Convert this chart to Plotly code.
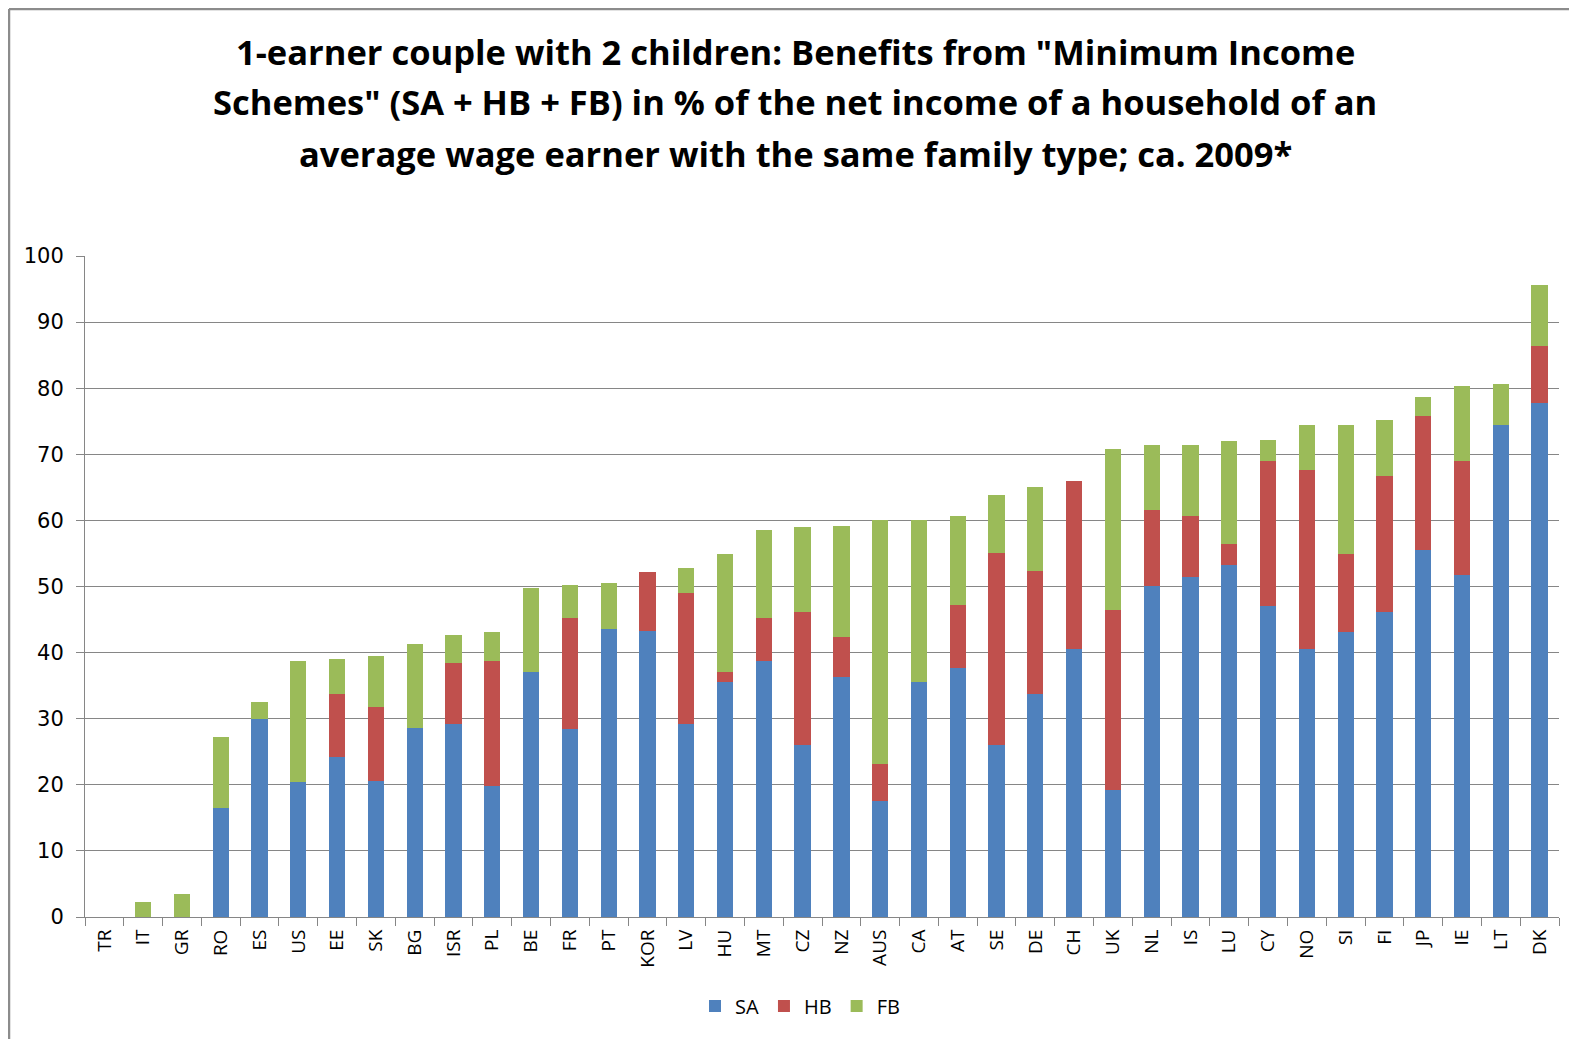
import plotly.graph_objects as go

countries = ["TR", "IT", "GR", "RO", "ES", "US", "EE", "SK", "BG", "ISR", "PL", "BE", "FR", "PT",
             "KOR", "LV", "HU", "MT", "CZ", "NZ", "AUS", "CA", "AT", "SE", "DE", "CH", "UK", "NL",
             "IS", "LU", "CY", "NO", "SI", "FI", "JP", "IE", "LT", "DK"]

# social assistance
sa = [0, 0, 0, 16.5, 29.9, 20.5, 24.2, 20.6, 28.6, 29.2, 19.8, 37.0, 28.4, 43.5,
      43.2, 29.2, 35.5, 38.8, 26.0, 36.3, 17.6, 35.5, 37.6, 26.0, 33.8, 40.6, 19.2, 50.1,
      51.4, 53.2, 47.0, 40.6, 43.1, 46.2, 55.5, 51.8, 74.5, 77.8]
# housing benefits
hb = [0, 0, 0, 0, 0, 0, 9.6, 11.1, 0, 9.3, 18.9, 0, 16.9, 0,
      9.0, 19.8, 1.5, 6.4, 20.2, 6.0, 5.6, 0, 9.6, 29.0, 18.6, 25.3, 27.3, 11.4,
      9.3, 3.2, 22.0, 27.1, 11.8, 20.5, 20.3, 17.2, 0, 8.6]
# family benefits
fb = [0, 2.2, 3.5, 10.8, 2.7, 18.3, 5.2, 7.8, 12.7, 4.1, 4.4, 12.8, 5.0, 7.1,
      0, 3.8, 17.9, 13.3, 12.8, 16.9, 36.9, 24.6, 13.4, 8.9, 12.6, 0, 24.3, 9.9,
      10.7, 15.6, 3.2, 6.7, 19.5, 8.5, 2.9, 11.3, 6.2, 9.2]

title_lines = [
    '1-earner couple with 2 children: Benefits from "Minimum Income',
    'Schemes" (SA + HB + FB) in % of the net income of a household of an',
    'average wage earner with the same family type; ca. 2009*',
]

colors = {"SA": "#4F81BD", "HB": "#C0504D", "FB": "#9BBB59"}

fig = go.Figure()
for name, vals in [("SA", sa), ("HB", hb), ("FB", fb)]:
    fig.add_trace(go.Bar(x=countries, y=vals, name=name,
                         marker=dict(color=colors[name], line=dict(width=0))))

# the page puts the figure 8px in from the window edge, so work in figure pixels
W, H = 1577, 1039
OFF = 8
L, T = 85 - OFF, 256 - OFF
R = W - (1559 - OFF)
B = H - (917 - OFF)
pw, ph = W - L - R, H - T - B


def px_x(p):
    return (p - OFF - L) / pw


def px_y(p):
    return (H - B - (p - OFF)) / ph


for i, line in enumerate(title_lines):
    fig.add_annotation(text=line, xref="paper", yref="paper", x=px_x(795), y=px_y(51 + 51 * i),
                       xanchor="center", yanchor="middle", showarrow=False,
                       font=dict(family="Open Sans", size=34.5, color="#000000", weight="bold"))

# chart border (top and left edges only visible)
fig.add_shape(type="line", xref="paper", yref="paper", x0=px_x(OFF + 1), x1=px_x(W + OFF + 5),
              y0=px_y(OFF + 1), y1=px_y(OFF + 1), line=dict(color="#8c8c8c", width=2.5))
fig.add_shape(type="line", xref="paper", yref="paper", x0=px_x(OFF + 1), x1=px_x(OFF + 1),
              y0=px_y(OFF + 1), y1=px_y(H + OFF + 5), line=dict(color="#8c8c8c", width=2.5))

fig.update_layout(
    barmode="stack",
    bargap=0.58,
    width=W,
    height=H,
    margin=dict(l=L, r=R, t=T, b=B),
    plot_bgcolor="white",
    paper_bgcolor="white",
    showlegend=True,
    legend=dict(orientation="h", x=px_x(800), xanchor="center", y=px_y(1006), yanchor="middle",
                font=dict(family="Open Sans", size=20, color="#000000"),
                itemwidth=30, traceorder="normal", tracegroupgap=0),
    xaxis=dict(
        tickangle=-90,
        tickfont=dict(family="Open Sans", size=19, color="#000000"),
        showline=True, linecolor="#868686", linewidth=1,
        ticks="outside", tickson="boundaries", ticklen=8, tickcolor="#868686",
        ticklabelstandoff=4,
        showgrid=False,
    ),
    yaxis=dict(
        range=[0, 100],
        dtick=10,
        tickfont=dict(family="DejaVu Sans", size=21, color="#000000"),
        showline=True, linecolor="#868686", linewidth=1,
        ticks="outside", ticklen=8, tickcolor="#868686",
        ticklabelstandoff=8,
        showgrid=True, gridcolor="#868686", gridwidth=1,
        zeroline=False,
    ),
)

fig.write_html("out.html")
